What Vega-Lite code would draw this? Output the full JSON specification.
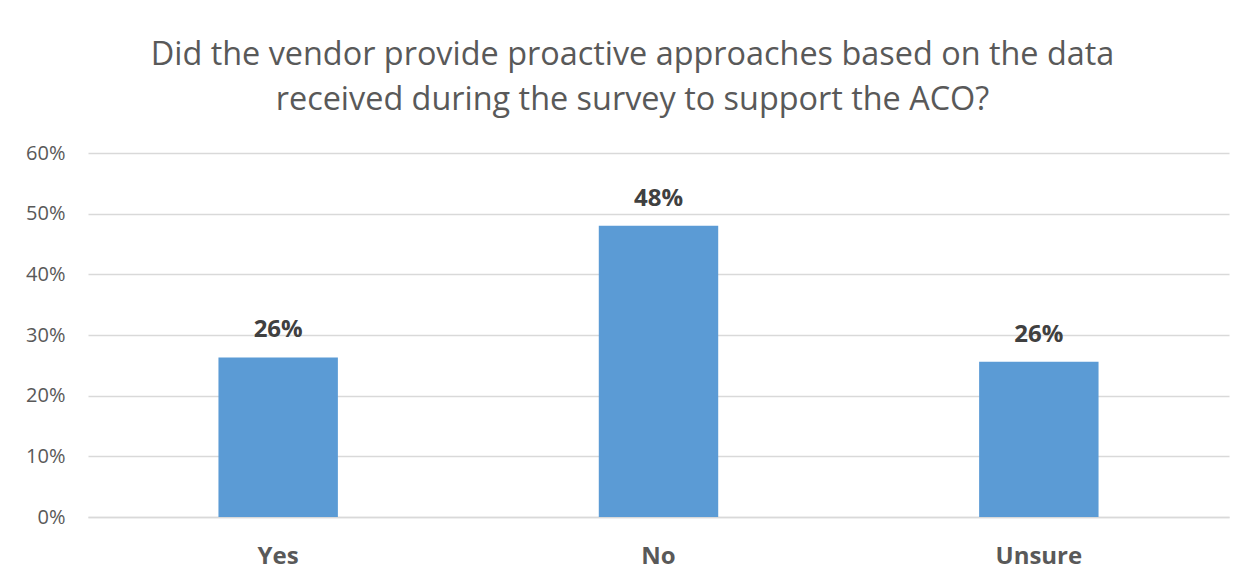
{
  "$schema": "https://vega.github.io/schema/vega-lite/v6.json",
  "autosize": {"type": "none"},
  "width": 1141,
  "height": 364,
  "padding": {"left": 88, "top": 153, "right": 23, "bottom": 65},
  "background": "white",
  "title": {
    "text": ["Did the vendor provide proactive approaches based on the data", "received during the survey to support the ACO?"],
    "anchor": "middle",
    "dx": -26,
    "font": "Open Sans",
    "fontSize": 32.4,
    "fontWeight": "normal",
    "color": "#595959",
    "lineHeight": 45,
    "offset": 27
  },
  "data": {
    "values": [
      {"answer": "Yes", "share": 0.263},
      {"answer": "No", "share": 0.48},
      {"answer": "Unsure", "share": 0.256}
    ]
  },
  "config": {
    "view": {"stroke": null},
    "font": "Open Sans"
  },
  "encoding": {
    "x": {
      "field": "answer",
      "type": "nominal",
      "sort": null,
      "scale": {"paddingInner": 0.686, "paddingOuter": 0.343},
      "axis": {
        "title": null,
        "labelAngle": 0,
        "labelFont": "Open Sans",
        "labelFontSize": 24,
        "labelFontWeight": "bold",
        "labelColor": "#595959",
        "labelPadding": 27,
        "ticks": false,
        "domainColor": "#d9d9d9",
        "domainWidth": 1.3
      }
    },
    "y": {
      "field": "share",
      "type": "quantitative",
      "scale": {"domain": [0, 0.6]},
      "axis": {
        "title": null,
        "format": ".0%",
        "values": [0, 0.1, 0.2, 0.3, 0.4, 0.5, 0.6],
        "labelFont": "Open Sans",
        "labelFontSize": 20,
        "labelColor": "#595959",
        "labelPadding": 23,
        "ticks": false,
        "domain": false,
        "gridColor": "#d9d9d9",
        "gridWidth": 1.3
      }
    }
  },
  "layer": [
    {"mark": {"type": "bar", "color": "#5b9bd5"}},
    {
      "mark": {"type": "text", "baseline": "alphabetic", "dy": -20, "font": "Open Sans", "fontSize": 24, "fontWeight": "bold", "color": "#404040"},
      "encoding": {"text": {"field": "share", "type": "quantitative", "format": ".0%"}}
    }
  ]
}
